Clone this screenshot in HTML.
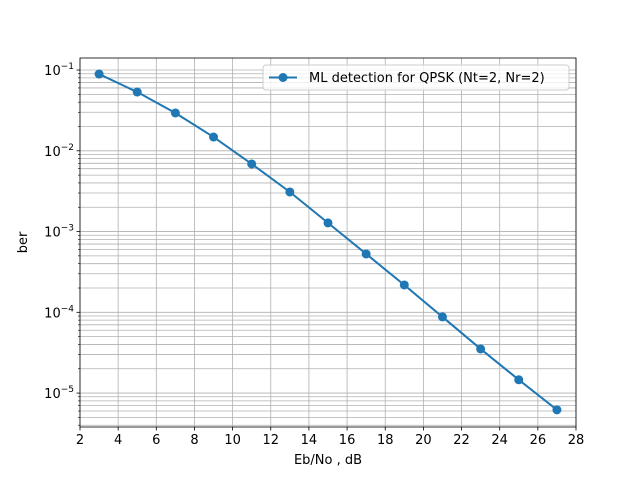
<!DOCTYPE html>
<html><head><meta charset="utf-8"><style>
body{margin:0;background:#fff}
svg{font-family:"DejaVu Sans","Liberation Sans",sans-serif}
</style></head><body>
<svg id="c" width="640" height="480" xmlns="http://www.w3.org/2000/svg"></svg>
<script>
const xValues=[3,5,7,9,11,13,15,17,19,21,23,25,27];
const berValues=[0.0892,0.0534,0.0294,0.0148,0.00687,0.00309,0.00128,0.000528,0.000218,0.0000877,0.0000352,0.0000146,0.0000062];
const xTicks=[2,4,6,8,10,12,14,16,18,20,22,24,26,28];
const yTickExps=[-1,-2,-3,-4,-5];
const L=80,R=576,T=58,B=427;
const xMin=2,xMax=28,lMin=-5.42,lMax=-0.851;
const sx=v=>L+(v-xMin)/(xMax-xMin)*(R-L);
const sy=v=>T+(lMax-Math.log10(v))/(lMax-lMin)*(B-T);
const svg=document.getElementById('c');
const NS='http://www.w3.org/2000/svg';
function mk(t,a,p){const e=document.createElementNS(NS,t);for(const k in a)e.setAttribute(k,a[k]);(p||svg).appendChild(e);return e;}
const grid=mk('g',{});


xTicks.forEach(v=>{mk('line',{x1:sx(v),x2:sx(v),y1:T,y2:B,stroke:'#b0b0b0','stroke-width':0.8},grid);});
for(let e=-6;e<=-1;e++)for(let m=1;m<10;m++){const v=m*Math.pow(10,e);const y=sy(v);if(y<T||y>B)continue;mk('line',{x1:L,x2:R,y1:y,y2:y,stroke:'#b0b0b0','stroke-width':0.8},grid);}
xTicks.forEach(v=>{mk('line',{x1:sx(v),x2:sx(v),y1:B,y2:B+3.5,stroke:'#000','stroke-width':0.8});
const t=mk('text',{x:sx(v),y:B+17,'text-anchor':'middle','font-size':13});t.textContent=v;

});
for(let e=-6;e<=-1;e++)for(let m=2;m<10;m++){const y=sy(m*Math.pow(10,e));if(y<T||y>B)continue;mk('line',{x1:L-2,x2:L,y1:y,y2:y,stroke:'#000','stroke-width':0.6});}
yTickExps.forEach(e=>{const y=sy(Math.pow(10,e));mk('line',{x1:L-3.5,x2:L,y1:y,y2:y,stroke:'#000','stroke-width':0.8});
const t=mk('text',{x:L-6,y:y+5,'text-anchor':'end','font-size':13});
t.innerHTML='10<tspan dy="-6" font-size="9">\u2212'+(-e)+'</tspan>';

});
mk('rect',{x:L,y:T,width:R-L,height:B-T,fill:'none',stroke:'#000','stroke-width':0.8});
const xl=mk('text',{x:(L+R)/2,y:464,'text-anchor':'middle','font-size':13});xl.textContent='Eb/No , dB';


const yl=mk('text',{x:0,y:0,'text-anchor':'middle','font-size':13,transform:'translate(27,'+((T+B)/2)+') rotate(-90)'});yl.textContent='ber';


const pts=xValues.map((x,i)=>sx(x)+','+sy(berValues[i])).join(' ');
const line=mk('polyline',{points:pts,fill:'none',stroke:'#1f77b4','stroke-width':2});


xValues.forEach((x,i)=>{const c=mk('circle',{cx:sx(x),cy:sy(berValues[i]),r:4.5,fill:'#1f77b4'});

});
const lg=mk('g',{});


mk('rect',{x:263,y:65,width:306,height:25,rx:3,fill:'#fff','fill-opacity':0.8,stroke:'#ccc'},lg);
mk('line',{x1:269,x2:297,y1:77.5,y2:77.5,stroke:'#1f77b4','stroke-width':2},lg);
mk('circle',{cx:283,cy:77.5,r:4.5,fill:'#1f77b4'},lg);
const lt=mk('text',{x:309,y:82,'font-size':13},lg);lt.textContent=' ML detection for QPSK (Nt=2, Nr=2)';


</script>
</body></html>
